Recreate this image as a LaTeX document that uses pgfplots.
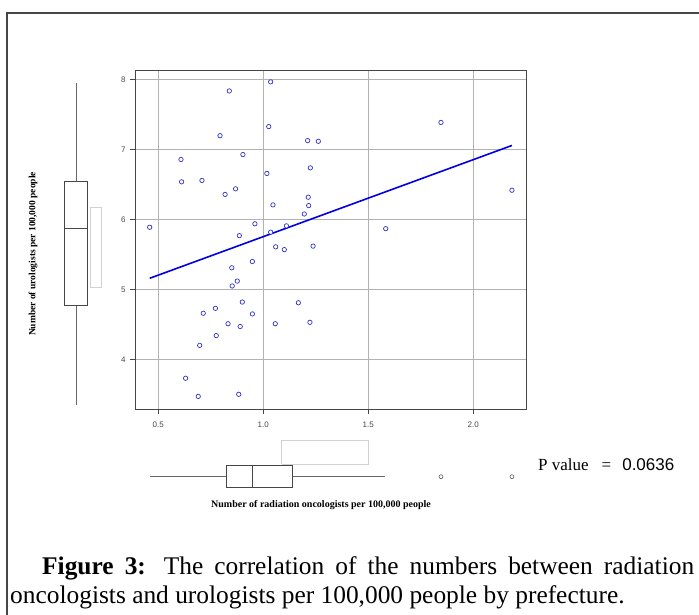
\documentclass[border=0pt]{standalone}
\usepackage{fontspec}
\setmainfont{Liberation Serif}
\setsansfont{Liberation Sans}
\usepackage{pgfplots}
\pgfplotsset{compat=1.18}
\usepgfplotslibrary{statistics}

\definecolor{ptblue}{RGB}{50,50,200}
\definecolor{lnblue}{RGB}{0,0,225}
\definecolor{frame}{RGB}{70,70,70}
\definecolor{gridc}{RGB}{178,178,178}

\begin{document}
\begin{tikzpicture}
\path[use as bounding box] (0pt,0pt) rectangle (699pt,615pt);
\draw[line width=1.5pt, frame] (7pt,0pt) -- (7pt,602pt) -- (699pt,602pt);

% scatter of the 47 prefectures
\begin{axis}[
    at={(135pt,206pt)}, anchor=south west, scale only axis,
    width=391pt, height=339pt,
    xmin=0.389, xmax=2.251, ymin=3.29, ymax=8.14,
    xtick={0.5,1,1.5,2}, xticklabels={0.5,1.0,1.5,2.0},
    ytick={4,5,6,7,8},
    xtick pos=bottom, ytick pos=left,
    grid=major, grid style={gridc, line width=1pt},
    tick align=outside, major tick length=5pt,
    tick style={frame, line width=0.6pt},
    axis line style={frame, line width=0.9pt},
    ticklabel style={font=\sffamily\fontsize{8}{9}\selectfont, text=frame},
    /pgf/number format/assume math mode=true,
    xticklabel style={yshift=-4pt},
    yticklabel style={xshift=-1pt},
]
\addplot[only marks, mark=*, mark size=2.2pt, draw=ptblue, fill=white, mark options={line width=0.7pt}] coordinates {
(0.838,7.84)(0.794,7.20)(0.903,6.93)(0.608,6.86)(0.611,6.54)(0.708,6.56)
(0.868,6.44)(0.818,6.36)(0.459,5.89)(0.960,5.94)(0.886,5.77)(1.035,7.97)
(1.026,7.33)(1.211,7.13)(1.262,7.12)(1.224,6.74)(1.017,6.66)(1.046,6.21)
(1.214,6.32)(1.216,6.20)(1.195,6.08)(1.110,5.91)(1.035,5.82)(0.850,5.31)
(0.948,5.40)(0.876,5.12)(0.852,5.05)(0.900,4.82)(0.714,4.66)(0.772,4.73)
(0.948,4.65)(0.832,4.51)(0.890,4.47)(0.776,4.34)(0.697,4.20)(0.630,3.73)
(0.690,3.47)(0.883,3.50)(1.059,5.61)(1.100,5.57)(1.237,5.62)(1.167,4.81)
(1.057,4.51)(1.222,4.53)(1.846,7.39)(2.184,6.42)(1.583,5.87)
};
\addplot[lnblue, line width=1.6pt, no marks] coordinates {(0.459,5.16)(2.184,7.06)};
\end{axis}

% marginal boxplot, urologists
\begin{axis}[
    at={(55pt,206pt)}, anchor=south west, scale only axis,
    width=60pt, height=339pt,
    xmin=0, xmax=60, ymin=3.29, ymax=8.14, hide axis,
]
\addplot[boxplot prepared={draw direction=y,
    lower whisker=3.34, lower quartile=4.77, median=5.87,
    upper quartile=6.54, upper whisker=7.96,
    draw position=21, box extend=22.6, whisker extend=0,
    every whisker/.style={gray!80!black, line width=0.9pt}},
    frame, line width=0.9pt] coordinates {};
\addplot[gray!35, line width=0.8pt] coordinates {(35.3,5.03)(46.3,5.03)(46.3,6.17)(35.3,6.17)(35.3,5.03)};
\end{axis}

% marginal boxplot, radiation oncologists
\begin{axis}[
    at={(135pt,100pt)}, anchor=south west, scale only axis,
    width=391pt, height=80pt,
    xmin=0.389, xmax=2.251, ymin=0, ymax=80, hide axis,
]
\addplot[boxplot prepared={draw direction=x,
    lower whisker=0.46, lower quartile=0.826, median=0.95,
    upper quartile=1.14, upper whisker=1.58,
    draw position=38.3, box extend=21.6, whisker extend=0,
    every whisker/.style={gray!80!black, line width=0.9pt}},
    frame, line width=0.9pt] coordinates {};
\addplot[only marks, mark=*, mark size=2pt, draw=frame, fill=white, mark options={line width=0.5pt}] coordinates {(1.846,38.3)(2.184,38.3)};
\addplot[gray!35, line width=0.8pt] coordinates {(1.088,51)(1.5,51)(1.5,74.7)(1.088,74.7)(1.088,51)};
\end{axis}

\node[rotate=90, inner sep=0] at (33pt,361pt) {\bfseries\fontsize{9.5}{11}\selectfont Number of urologists per 100,000 people};
\node[inner sep=0] at (321pt,110pt) {\bfseries\fontsize{10}{12}\selectfont Number of radiation oncologists per 100,000 people};
\node[anchor=base west, inner sep=0] at (538pt,144.3pt) {\fontsize{17}{20}\selectfont P value\hspace{13pt}=\hspace{11pt}{\sffamily 0.0636}};

\node[anchor=base west, inner sep=0] at (42pt,40pt) {\fontsize{25.4}{29}\selectfont\makebox[652pt][s]{\textbf{Figure 3:} The correlation of the numbers between radiation}};
\node[anchor=base west, inner sep=0] at (10pt,11pt) {\fontsize{25.4}{29}\selectfont oncologists and urologists per 100,000 people by prefecture.};
\end{tikzpicture}
\end{document}
